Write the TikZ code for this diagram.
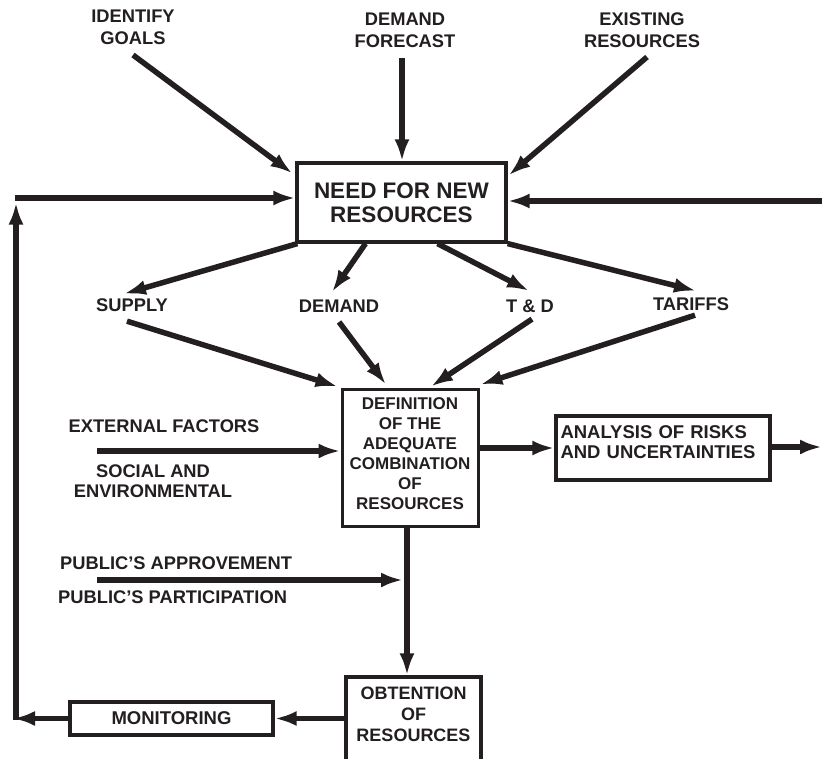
\documentclass[tikz,border=0pt]{standalone}
\usepackage{fontspec}
\setmainfont{Liberation Sans}
\usetikzlibrary{arrows.meta,calc}
\definecolor{ink}{RGB}{35,31,32}
\begin{document}
\begin{tikzpicture}[x=1pt,y=-1pt,
  lbl/.style={font=\fontsize{18.3}{22}\selectfont\bfseries, align=center, inner sep=0pt, text=ink},
  box/.style={draw=ink, line width=3.2pt, inner sep=0pt, text=ink, align=center},
  arr/.style={draw=ink, line width=5.5pt, -{Latex[length=22pt,width=15pt]}}]
\useasboundingbox (0,0) rectangle (822,758);
% labels
\node[lbl] (goals) at (133,27.5) {IDENTIFY\\GOALS};
\node[lbl] (fcst) at (405,30) {DEMAND\\FORECAST};
\node[lbl] (exist) at (642,30) {EXISTING\\RESOURCES};
\node[lbl] (supply) at (132,305.5) {SUPPLY};
\node[lbl] (demand) at (339,306.5) {DEMAND};
\node[lbl] (td) at (530,306.5) {T \& D};
\node[lbl] (tariffs) at (691,304.5) {TARIFFS};
\node[lbl] (extf) at (164,426.5) {EXTERNAL FACTORS};
\node[lbl, font=\fontsize{18.3}{20}\selectfont\bfseries] (social) at (153,481.5) {SOCIAL AND\\ENVIRONMENTAL};
\node[lbl, anchor=west] (pubapp) at (60,563.5) {PUBLIC’S APPROVEMENT};
\node[lbl, anchor=west] (pubpart) at (58,597.5) {PUBLIC’S PARTICIPATION};
% boxes
\node[box, minimum width=209pt, minimum height=79pt, font=\fontsize{22.5}{24}\selectfont\bfseries] (need) at (401.5,202.5) {NEED FOR NEW\\RESOURCES};
\node[box, line width=3pt, minimum width=136pt, minimum height=137pt, text depth=7pt, font=\fontsize{17}{20}\selectfont\bfseries] (def) at (410,457.5) {DEFINITION\\OF THE\\ADEQUATE\\COMBINATION\\OF\\RESOURCES};
\node[box, minimum width=214pt, minimum height=64pt, align=left, text width=205pt, text depth=31.7pt, font=\fontsize{18.5}{20}\selectfont\bfseries] (ana) at (663,448) {ANALYSIS OF RISKS\\AND UNCERTAINTIES};
\node[box, minimum width=135pt, minimum height=87pt, text depth=12pt, font=\fontsize{18}{21}\selectfont\bfseries] (obt) at (413.5,720.5) {OBTENTION\\OF\\RESOURCES};
\node[box, minimum width=203pt, minimum height=33pt, font=\fontsize{18.5}{22}\selectfont\bfseries] (mon) at (171.5,718.5) {MONITORING};
% free ends
\coordinate (gs) at (133,55);
\coordinate (fs) at (402,58);
\coordinate (es) at (647,57);
\coordinate (rs) at (822,201);
\coordinate (ct) at (15,198);
\coordinate (cb) at (16,720);
\coordinate (ml) at (13,718.5);
\coordinate (ao) at (822,447);
\coordinate (ex) at (97,451);
\coordinate (pa) at (97,580);
\coordinate (dv) at ($(def.south)+(-3,0)$);
\coordinate (pj) at ($(def.south)+(-7,0)$);
% inputs to need
\draw[arr] (gs) -- ($(need.north west)+(-3,12)$);
\draw[arr] (fs) -- (fs |- need.north);
\draw[arr] (es) -- ($(need.north east)+(1,14)$);
\draw[arr] (rs) -- (rs -| need.east);
\draw[arr] (ct) -- (ct -| need.west);
\draw[arr] (cb) -- (cb |- need.west);
% need to the four
\draw[arr] ($(need.south west)+(2,0)$) -- ($(supply.north)+(-8,-5)$);
\draw[arr] ($(need.south)+(-36,0)$) -- ($(demand.north)+(-7,-8)$);
\draw[arr] ($(need.south)+(36,0)$) -- ($(td.north)+(-1,-9)$);
\draw[arr] (need.south east) -- ($(tariffs.north)+(5,-7)$);
% four to def
\draw[arr] ($(supply.south)+(-5,9)$) -- ($(def.north west)+(-3,-1)$);
\draw[arr] ($(demand.south)+(0,9)$) -- ($(def.north)+(-24,-3)$);
\draw[arr] ($(td.south)+(2,6)$) -- ($(def.north)+(21,-1)$);
\draw[arr] ($(tariffs.south)+(4,4)$) -- ($(def.north east)+(1,-3)$);
% side flows
\draw[arr] (ex) -- (ex -| def.west);
\draw[arr] (def.east |- ana.west) -- (ana.west);
\draw[arr] (ana.east |- ao) -- (ao);
\draw[arr] (dv) -- (dv |- obt.north);
\draw[arr] (pa) -- (pa -| pj);
\draw[arr] (mon.east -| obt.west) -- (mon.east);
\draw[arr] (mon.west) -- (ml);
\end{tikzpicture}
\end{document}
